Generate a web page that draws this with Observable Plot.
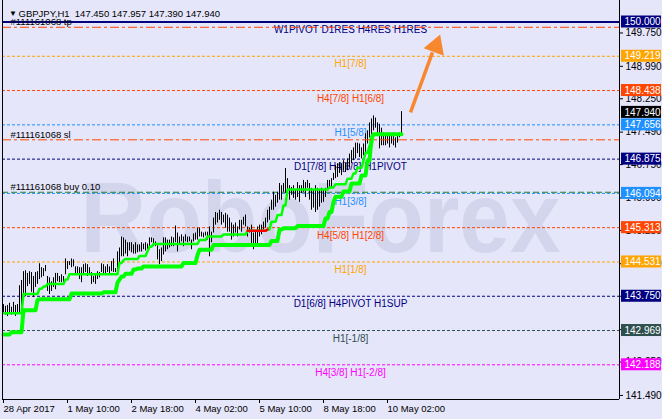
<!DOCTYPE html>
<html><head><meta charset="utf-8">
<script src="https://cdn.jsdelivr.net/npm/d3@7"></script>
<script src="https://cdn.jsdelivr.net/npm/@observablehq/plot@0.6"></script>
<style>
html,body{margin:0;padding:0;background:#E6E6FA;}
#chart svg{display:block;}
</style></head><body><div id="chart"></div>
<script>
// ---------- data ----------
const symbolName = "GBPJPY,H1";
const lastOHLC = [147.450, 147.957, 147.390, 147.940];

const highs = [
143.56,143.52,143.54,143.59,143.50,143.61,143.54,143.56,143.99,144.11,
144.31,144.33,144.27,144.31,144.29,144.20,144.29,144.31,144.49,144.40,
144.38,144.45,144.20,144.17,144.08,144.17,144.27,144.27,144.20,144.24,
144.20,144.60,144.54,144.54,144.60,144.58,144.42,144.42,144.40,144.40,
144.47,144.49,144.47,144.40,144.29,144.20,144.24,144.31,144.29,144.49,
144.47,144.42,144.47,144.42,144.54,144.60,144.38,144.76,144.85,145.10,
145.08,145.03,144.97,144.97,144.97,144.92,144.97,144.92,144.92,144.97,
144.94,144.97,144.94,145.08,145.08,145.06,144.99,144.90,144.81,144.85,
145.08,145.08,145.03,145.03,145.10,145.08,145.35,145.19,145.10,145.15,
145.10,145.15,145.10,145.10,145.03,145.17,145.19,145.30,145.30,145.21,
145.19,145.21,145.21,145.33,145.21,145.53,145.66,145.64,145.71,145.66,
145.60,145.64,145.60,145.53,145.42,145.37,145.42,145.33,145.48,145.48,
145.55,145.60,145.33,145.30,145.37,145.19,145.21,145.33,145.37,145.37,
145.44,145.53,145.71,145.78,145.94,146.12,146.05,146.12,146.32,146.27,
146.32,146.66,146.43,146.27,146.23,146.27,146.16,146.34,146.27,146.27,
146.39,146.34,146.39,146.32,146.21,146.16,146.27,146.21,146.16,146.21,
146.16,146.21,146.39,146.39,146.43,146.55,146.73,146.77,146.79,146.77,
146.84,146.79,146.88,146.99,147.07,147.13,147.24,147.24,147.22,147.13,
147.22,147.45,147.52,147.70,147.79,147.86,147.81,147.70,147.67,147.58,
147.47,147.40,147.47,147.40,147.45,147.47,147.36,147.45,147.47,147.957];

const lows = [
143.34,143.32,143.29,143.36,143.32,143.34,143.29,143.38,143.34,143.45,
143.63,143.74,143.97,144.02,143.84,143.72,143.95,144.02,144.13,144.17,
144.20,144.31,143.86,143.79,143.86,143.95,143.90,144.08,144.06,144.06,
144.02,144.24,144.36,144.45,144.40,144.42,144.24,144.24,144.13,144.06,
144.24,144.29,144.20,144.24,144.02,144.06,144.02,144.13,144.17,144.29,
144.24,144.24,144.29,144.24,144.31,144.29,144.29,144.29,144.51,144.65,
144.65,144.71,144.65,144.78,144.74,144.71,144.71,144.74,144.76,144.76,
144.81,144.78,144.81,144.85,144.97,144.88,144.88,144.58,144.47,144.54,
144.69,144.76,144.81,144.85,144.88,144.88,144.97,144.76,144.92,144.99,
144.88,144.99,144.97,144.99,144.81,144.99,145.03,145.03,145.10,145.10,
145.08,145.12,145.03,144.65,144.97,145.19,145.37,145.42,145.48,145.37,
145.42,145.30,145.21,145.21,145.03,145.10,145.19,145.10,145.26,145.21,
145.37,145.33,145.10,145.19,144.88,144.81,144.88,144.92,145.10,145.15,
145.26,145.30,145.42,145.48,145.71,145.71,145.78,145.87,145.94,145.94,
146.12,146.09,146.12,145.94,146.05,145.98,145.94,146.00,145.89,146.09,
146.12,146.00,146.21,145.94,145.71,145.76,145.66,145.71,145.78,145.87,
145.89,146.00,146.16,146.23,146.21,146.39,146.43,146.46,146.55,146.50,
146.61,146.57,146.61,146.68,146.77,146.84,146.88,147.00,146.91,146.88,
146.95,147.02,147.22,147.36,147.40,147.52,147.58,147.45,147.11,147.18,
147.18,147.18,147.22,147.13,147.22,147.18,147.13,147.24,147.36,147.39];

// trailing lines: [bar where the step starts, price]
const upperSteps = [[0,143.36],[10,143.80],[18,143.92],[20,143.97],[22,144.03],[31,144.13],[33,144.25],
 [58,144.51],[60,144.57],[61,144.60],[68,144.67],[72,144.77],[73,144.88],[75,144.94],[98,145.03],
 [102,145.11],[110,145.16],[122,145.24],[132,145.27],[134,145.45],[137,145.60],[140,145.82],
 [142,146.18],[163,146.23],[166,146.30],[172,146.43],[175,146.55],[177,146.68],[180,146.84],
 [181,147.02],[183,147.18],[185,147.44]];
const lowerSteps = [[0,142.88],[4,142.93],[10,143.43],[17,143.66],[18,143.68],[34,143.81],[50,143.84],
 [57,144.06],[58,144.13],[59,144.20],[61,144.26],[65,144.36],[67,144.38],[70,144.43],[90,144.51],
 [97,144.69],[98,144.81],[105,144.92],[134,145.01],[138,145.27],[140,145.30],[147,145.35],
 [161,145.52],[163,145.67],[165,145.90],[166,146.02],[170,146.14],[174,146.32],[179,146.50],
 [182,146.84],[184,147.36],[185,147.44]];
const redBars = [122, 132];

const dateTickBars = [0, 32, 64, 96, 128, 160, 192];
const dateTickLabels = ["28 Apr 2017","1 May 10:00","2 May 18:00","4 May 02:00","5 May 10:00","8 May 18:00","10 May 02:00"];
const priceTicks = [149.750,148.990,148.250,147.490,146.750,145.990,145.250,144.490,143.750,142.990,142.250,141.490];

const levelPrices = [150.000,149.219,148.438,147.656,146.875,146.094,145.313,144.531,143.750,142.969,142.188];
const levelNames = ["W1PIVOT D1RES H4RES H1RES","H1[7/8]","H4[7/8] H1[6/8]","H1[5/8]","D1[7/8] H4[6/8] H1PIVOT",
 "H1[3/8]","H4[5/8] H1[2/8]","H1[1/8]","D1[6/8] H4PIVOT H1SUP","H1[-1/8]","H4[3/8] H1[-2/8]"];

const orderLabels = ["#111161068 tp","#111161068 sl","#111161068 buy 0.10"];
const orderPrices = [149.88, 147.315, 146.12];

const arrowFrom = [203.5, 147.94];
const arrowTo = [214.5, 149.31];
const arrowHead = [216.2, 149.45];

const watermark = "RoboForex";

// ---------- styles ----------
const levelColors = ["#000080","#FFA500","#FF4500","#1E90FF","#000080","#1E90FF","#FF4500","#FFA500","#000080","#2F4F4F","#FF00FF"];
const BG = "#E6E6FA";
const LABEL_BAR = 173.5;

// ---------- build tables ----------
const bars = highs.map((h, i) => ({i, high: h, low: lows[i]}));
function expand(steps) {
  return d3.range(highs.length).map(i => {
    let v = steps[0][1];
    for (const [s, p] of steps) if (s <= i) v = p;
    return {i, v};
  });
}
const upper = expand(upperSteps);
const lower = expand(lowerSteps);
const redSeg = upper.filter(d => d.i >= redBars[0] && d.i <= redBars[1]);
const levels = levelPrices.map((p, k) => ({price: p, name: levelNames[k], color: levelColors[k]}));
const orders = orderPrices.map((p, k) => ({price: p, label: orderLabels[k]}));
const boxes = levels.map(d => ({price: d.price, color: d.color}))
  .concat([{price: lastOHLC[3], color: "#000000"}]);

const X0 = -0.5, X1 = 308;
const chart = Plot.plot({
  width: 662, height: 419,
  marginLeft: 2, marginRight: 43, marginTop: 0, marginBottom: 20,
  x: {domain: [X0, X1], label: null},
  y: {domain: [141.397, 150.49], label: null},
  style: {background: BG, fontFamily: "'Liberation Sans', Arial, sans-serif", color: "#000", overflow: "visible"},
  marks: [
    Plot.text([watermark], {frameAnchor: "top-left", dx: 78, dy: 180, text: d => d, textAnchor: "start",
      fontSize: 100, fontWeight: "bold", fill: "#d3d5ec", className: "wm"}),
    Plot.ruleY(levels.slice(1), {y: "price", stroke: "color", strokeDasharray: "3,2", strokeWidth: 1}),
    Plot.ruleY(levels.slice(0, 1), {y: "price", stroke: "color", strokeWidth: 2.2}),
    Plot.ruleY(orders.slice(2), {y: "price", stroke: "#2a7f2a", strokeDasharray: "6,3", strokeWidth: 1}),
    Plot.text(levels, {x: () => LABEL_BAR, y: "price", text: "name", fill: "color", dy: 8, fontSize: 10}),
    Plot.ruleX(bars, {x: "i", y1: "low", y2: "high", stroke: "#000", strokeWidth: 1}),
    Plot.line(lower, {x: "i", y: "v", stroke: "#00FF00", strokeWidth: 4}),
    Plot.line(upper, {x: "i", y: "v", stroke: "#00FF00", strokeWidth: 2.5}),
    Plot.line(redSeg, {x: "i", y: "v", stroke: "#FF0000", strokeWidth: 2.5}),
    Plot.ruleY(orders.slice(0, 2), {y: "price", stroke: "#FF4500", strokeDasharray: "9,3,3,3", strokeWidth: 1}),
    Plot.text(orders, {x: () => X0, y: "price", text: "label", dx: 8, dy: -5, textAnchor: "start", fontSize: 9.5, fill: "#000"}),
    Plot.link([0], {x1: () => arrowFrom[0], y1: () => arrowFrom[1], x2: () => arrowTo[0], y2: () => arrowTo[1],
      stroke: "#F7882F", strokeWidth: 3.5}),
    Plot.dot([0], {x: () => arrowHead[0], y: () => arrowHead[1], symbol: "triangle", r: 8, fill: "#F7882F", stroke: "none", rotate: 20}),
    Plot.ruleX([X0], {stroke: "#000"}),
    Plot.ruleX([X1], {stroke: "#000"}),
    Plot.ruleY([141.397], {stroke: "#000"}),
    Plot.axisY({anchor: "right", ticks: priceTicks, tickFormat: d => d.toFixed(3), tickSize: 3, tickPadding: 3, fontSize: 10}),
    Plot.axisX({anchor: "bottom", ticks: dateTickBars, tickFormat: d => dateTickLabels[dateTickBars.indexOf(d)],
      tickSize: 4, tickPadding: 2, textAnchor: "start", fontSize: 9.5}),
    Plot.rect(boxes, {x1: () => X1, x2: () => X1, y1: "price", y2: "price", fill: "color",
      insetLeft: 2, insetRight: -42, insetTop: -6, insetBottom: -6}),
    Plot.text(boxes, {x: () => X1, y: "price", text: d => d.price.toFixed(3), dx: 5, textAnchor: "start", fill: "#fff", fontSize: 10}),
    Plot.text(["\u25BC"], {frameAnchor: "top-left", dx: 6.5, dy: 10, text: d => d, fontSize: 8, fill: "#000"}),
    Plot.text([symbolName + "\u00A0\u00A0" + lastOHLC.map(v => v.toFixed(3)).join(" ")],
      {frameAnchor: "top-left", dx: 16, dy: 10, text: d => d, textAnchor: "start", fontSize: 9.5, fill: "#000"})
  ]
});
// squeeze the watermark to the width it takes in the picture
d3.select(chart).selectAll("g.wm text").attr("textLength", 480).attr("lengthAdjust", "spacingAndGlyphs");
document.getElementById("chart").appendChild(chart);
</script>
</body></html>
